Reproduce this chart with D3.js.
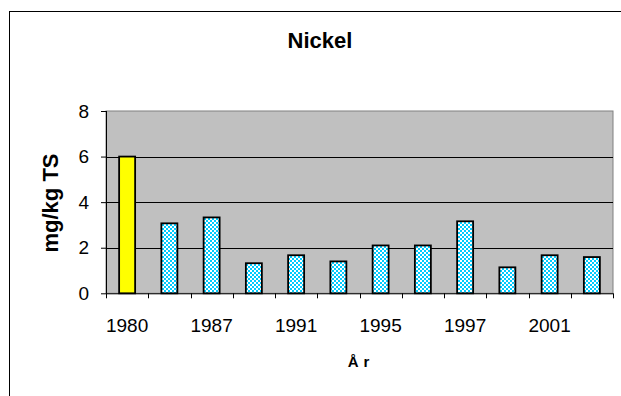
<!DOCTYPE html>
<html>
<head>
<meta charset="utf-8">
<script src="https://cdn.jsdelivr.net/npm/d3@7"></script>
<style>
  html, body { margin: 0; padding: 0; background: #fff; }
  svg { display: block; font-family: "Liberation Sans", Arial, sans-serif; }
</style>
</head>
<body>
<svg id="chart" width="621" height="396"></svg>
<script>
// Sampling years (every other one is labelled on the axis)
const years = ["1980", "1985", "1987", "1989", "1991", "1993", "1995", "1996", "1997", "1999", "2001", "2003"];
// Nickel concentration, mg/kg dry matter (TS)
const nickel = [6.0, 3.07, 3.33, 1.32, 1.67, 1.40, 2.1, 2.1, 3.16, 1.14, 1.67, 1.59];
// Which bar is drawn in solid yellow rather than the checked fill
const highlighted = ["1980"];
const yTicks = [0, 2, 4, 6, 8];
const shownYearLabels = ["1980", "1987", "1991", "1995", "1997", "2001"];

const svg = d3.select("#chart");

// checked fill for the ordinary bars
const defs = svg.append("defs");
const pat = defs.append("pattern")
  .attr("id", "checks")
  .attr("patternUnits", "userSpaceOnUse")
  .attr("width", 4).attr("height", 4);
pat.append("rect").attr("width", 4).attr("height", 4).attr("fill", "#00CCFF");
pat.append("rect").attr("x", 0).attr("y", 0).attr("width", 2).attr("height", 2).attr("fill", "#ffffff");
pat.append("rect").attr("x", 2).attr("y", 2).attr("width", 2).attr("height", 2).attr("fill", "#ffffff");

// outer chart frame
svg.append("rect")
  .attr("x", 9.5).attr("y", 11.5)
  .attr("width", 640).attr("height", 400)
  .attr("fill", "#fff").attr("stroke", "#000").attr("stroke-width", 1);

const plot = { left: 106, right: 613, top: 111, bottom: 293.3 };

const x = d3.scaleBand()
  .domain(years)
  .range([plot.left, plot.right])
  .paddingInner(0).paddingOuter(0);

const y = d3.scaleLinear()
  .domain([0, 8])
  .range([plot.bottom, plot.top]);

// plot background
svg.append("rect")
  .attr("x", plot.left).attr("y", plot.top)
  .attr("width", plot.right - plot.left).attr("height", plot.bottom - plot.top)
  .attr("fill", "#C0C0C0").attr("stroke", "#808080").attr("stroke-width", 1);

// horizontal gridlines
svg.append("g")
  .selectAll("line")
  .data(yTicks.filter(t => t > 0 && t < 8))
  .join("line")
  .attr("x1", plot.left).attr("x2", plot.right)
  .attr("y1", d => Math.round(y(d)) + 0.5).attr("y2", d => Math.round(y(d)) + 0.5)
  .attr("stroke", "#000").attr("stroke-width", 1);

// bars
svg.append("g")
  .selectAll("rect")
  .data(years.map((yr, i) => ({ yr, v: nickel[i] })))
  .join("rect")
  .attr("x", d => x(d.yr) + x.bandwidth() / 2 - 8)
  .attr("width", 16)
  .attr("y", d => y(d.v))
  .attr("height", d => y(0) - y(d.v))
  .attr("fill", d => highlighted.includes(d.yr) ? "#FFFF00" : "url(#checks)")
  .attr("stroke", "#000").attr("stroke-width", 1.8);

// y axis
const yAxis = d3.axisLeft(y).tickValues(yTicks).tickSize(5).tickPadding(12);
const gy = svg.append("g")
  .attr("transform", `translate(${plot.left},0)`)
  .call(yAxis);
gy.select(".domain").attr("stroke", "#000").attr("d", `M0.5,${plot.top}V${plot.bottom}`);
gy.selectAll(".tick line").attr("stroke", "#000");
gy.selectAll(".tick text")
  .attr("font-size", 19).attr("fill", "#000")
  .attr("font-family", "Liberation Sans, Arial, sans-serif");

// x axis: ticks on band boundaries, labels on every other category
const gx = svg.append("g").attr("transform", `translate(0,${plot.bottom})`);
gx.append("line")
  .attr("x1", plot.left).attr("x2", plot.right)
  .attr("y1", 0.5).attr("y2", 0.5)
  .attr("stroke", "#000");
const boundaries = years.map(yr => x(yr)).concat([x(years[years.length - 1]) + x.bandwidth()]);
gx.selectAll("line.tk")
  .data(boundaries)
  .join("line")
  .attr("class", "tk")
  .attr("x1", d => Math.round(d) + 0.5).attr("x2", d => Math.round(d) + 0.5)
  .attr("y1", 0).attr("y2", 5)
  .attr("stroke", "#000");
gx.selectAll("text")
  .data(shownYearLabels)
  .join("text")
  .attr("x", d => x(d) + x.bandwidth() / 2)
  .attr("y", 39)
  .attr("text-anchor", "middle")
  .attr("font-size", 19)
  .attr("fill", "#000")
  .text(d => d);

// titles
svg.append("text")
  .attr("x", 320).attr("y", 48)
  .attr("text-anchor", "middle")
  .attr("font-size", 22).attr("font-weight", "bold")
  .text("Nickel");

svg.append("text")
  .attr("transform", "translate(58,203) rotate(-90)")
  .attr("text-anchor", "middle")
  .attr("font-size", 22).attr("font-weight", "bold")
  .text("mg/kg TS");

svg.append("text")
  .attr("x", 361).attr("y", 367)
  .attr("text-anchor", "middle")
  .attr("font-size", 15).attr("font-weight", "bold")
  .attr("letter-spacing", 5)
  .text("År");
</script>
</body>
</html>
